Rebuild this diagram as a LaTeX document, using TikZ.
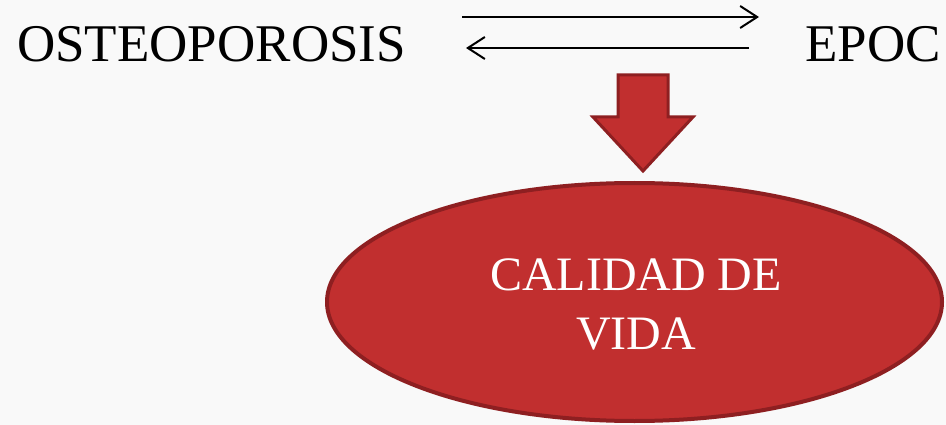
\documentclass[tikz,border=0pt]{standalone}
\usepackage{fontspec}
\setmainfont{Liberation Serif}
\usetikzlibrary{arrows.meta,shapes.geometric}
\definecolor{bg}{HTML}{F9F9F9}
\definecolor{redfill}{HTML}{C12F2F}
\definecolor{redline}{HTML}{8E1F21}
\tikzset{
  bigtext/.style={font=\fontsize{53}{57}\selectfont, inner sep=0pt},
  thinarrow/.style={line width=2pt, -{Straight Barb[length=17pt,width=22pt]}},
  blockarrow/.style={fill=redfill, draw=redline, line width=3pt, line join=miter},
  ovalnode/.style={ellipse, fill=redfill, draw=redline, line width=4pt,
    minimum width=615pt, minimum height=238pt, inner sep=0pt},
  ovaltext/.style={text=white, align=center, inner sep=0pt,
    font=\fontsize{48}{59}\selectfont}
}
\begin{document}
\begin{tikzpicture}[x=1pt,y=-1pt]
\fill[bg] (0,0) rectangle (946,425);
\useasboundingbox (0,0) rectangle (946,425);
\node[bigtext, anchor=base west] (osteo) at (17,62) {OSTEOPOROSIS};
\node[bigtext, anchor=base east] (epoc) at (941,62) {EPOC};
\coordinate (a1s) at (462,17);
\coordinate (a1e) at (759,17);
\coordinate (a2s) at (749,48);
\coordinate (a2e) at (466,48);
\draw[thinarrow] (a1s) -- (a1e);
\draw[thinarrow] (a2s) -- (a2e);
\draw[blockarrow] (618,75) -- (668,75) -- (668,117) -- (693,117) -- (643,171) -- (593,117) -- (618,117) -- cycle;
\node[ovalnode] (vida) at (634.5,302) {};
\node[ovaltext] (vidatext) at (636,304) {CALIDAD DE\\VIDA};
\end{tikzpicture}
\end{document}
